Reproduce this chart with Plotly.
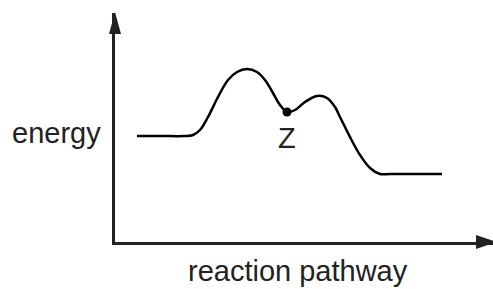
import plotly.graph_objects as go

# Reaction pathway (progress) and energy values
pathway = [22, 45, 70, 78, 85, 93, 103, 113, 122, 132, 142, 150, 158, 165, 172,
           180, 190, 202, 212, 220, 225, 235, 245, 255, 265, 275, 300, 327]
energy = [106, 106, 106, 107, 112, 125, 145, 162, 170, 173, 170, 162, 149, 137, 130,
          132, 140, 146, 144, 135, 125, 105, 87, 74, 68, 68, 68, 68]

# intermediate Z
z_pathway = [172]
z_energy = [130]
z_label = ["Z"]

x_title = "reaction pathway"
y_title = "energy"

FONT = "Liberation Sans, Arial, Helvetica, sans-serif"

fig = go.Figure()
fig.add_trace(go.Scatter(
    x=pathway, y=energy, mode="lines",
    line=dict(color="black", width=2.5, shape="spline", smoothing=1.0),
    hoverinfo="skip", showlegend=False,
))
fig.add_trace(go.Scatter(
    x=z_pathway, y=z_energy, mode="markers",
    marker=dict(color="black", size=9),
    hoverinfo="skip", showlegend=False,
))

fig.add_annotation(x=z_pathway[0], y=z_energy[0], text=z_label[0], showarrow=False,
                   yanchor="top", yshift=-8, font=dict(family=FONT, size=29, color="#222"))
fig.add_annotation(xref="paper", yref="paper", x=-0.156, y=0.476, text=y_title,
                   showarrow=False, xanchor="center", yanchor="middle",
                   font=dict(family=FONT, size=29, color="#222"))
fig.add_annotation(xref="paper", yref="paper", x=0.485, y=-0.127, text=x_title,
                   showarrow=False, xanchor="center", yanchor="middle",
                   font=dict(family=FONT, size=29, color="#222"))

# arrowheads on the axes
fig.add_shape(type="path", xref="paper", yref="paper", xsizemode="pixel", ysizemode="pixel",
              xanchor=0, yanchor=1, path="M-6,-21 L6,-21 L0,1 Z",
              fillcolor="#222", line=dict(width=0))
fig.add_shape(type="path", xref="paper", yref="paper", xsizemode="pixel", ysizemode="pixel",
              xanchor=1, yanchor=0, path="M-17,7 L-17,-7 L4,0 Z",
              fillcolor="#222", line=dict(width=0))

fig.update_layout(
    width=493, height=289,
    margin=dict(l=115, r=0, t=13, b=47),
    paper_bgcolor="white", plot_bgcolor="white",
    xaxis=dict(range=[0, 378], showgrid=False, zeroline=False, showticklabels=False,
               ticks="", showline=True, linecolor="#222", linewidth=2.5, fixedrange=True),
    yaxis=dict(range=[0, 229], showgrid=False, zeroline=False, showticklabels=False,
               ticks="", showline=True, linecolor="#222", linewidth=2.5, fixedrange=True),
)

fig.write_html("out.html", config={"displayModeBar": False},
               post_script="document.body.style.margin='0';document.body.style.overflow='hidden';")
